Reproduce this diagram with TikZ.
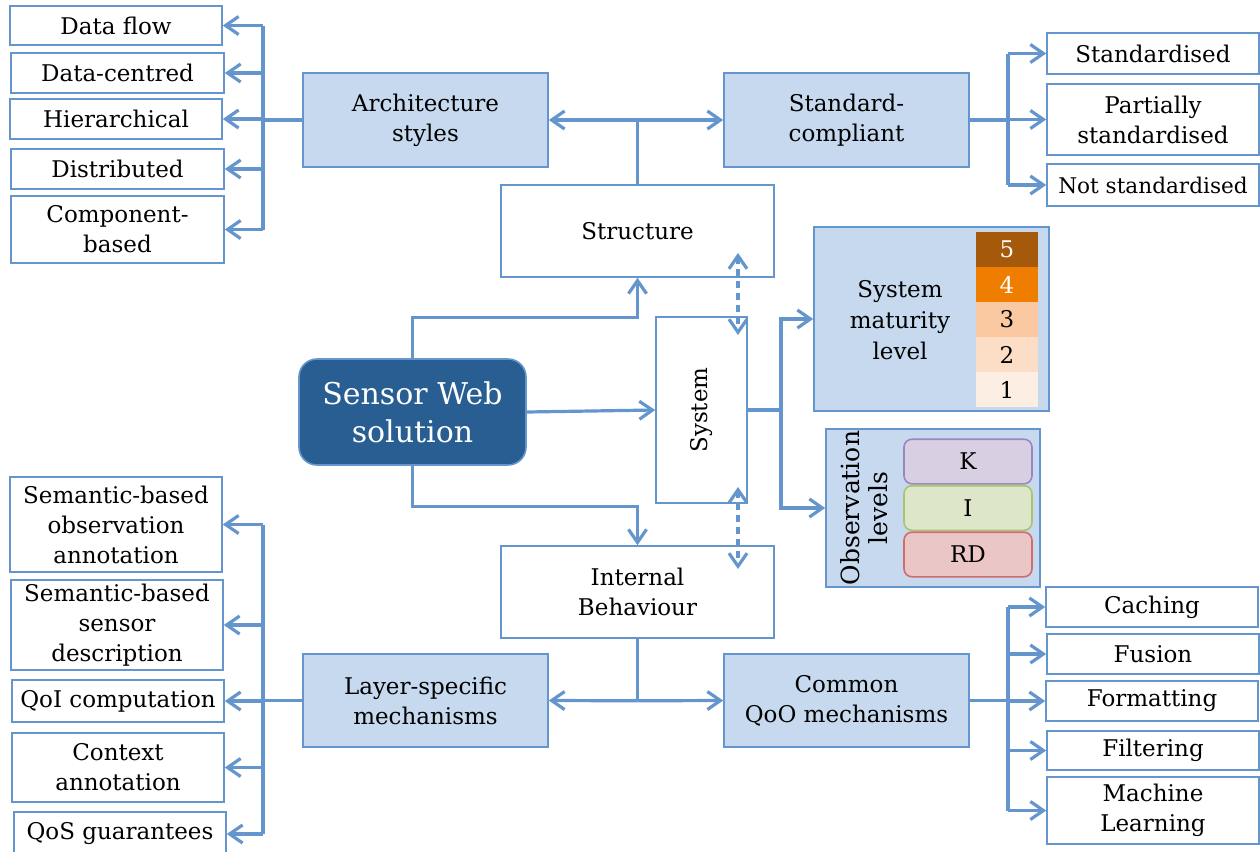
\documentclass[tikz,border=0pt]{standalone}
\usepackage{fontspec}
\setmainfont{DejaVu Serif}
\usetikzlibrary{arrows.meta}

\definecolor{linec}{HTML}{6496CD}
\definecolor{lightc}{HTML}{C6D9EE}
\definecolor{darkc}{HTML}{285E92}
\definecolor{lvfive}{HTML}{A5590A}
\definecolor{lvfour}{HTML}{EE7D00}
\definecolor{lvthree}{HTML}{FAC9A1}
\definecolor{lvtwo}{HTML}{FCDEC6}
\definecolor{lvone}{HTML}{FDEEE3}
\definecolor{kfill}{HTML}{D8CFE3}
\definecolor{kdraw}{HTML}{9B87C0}
\definecolor{ifill}{HTML}{DDE6C8}
\definecolor{idraw}{HTML}{A8C46E}
\definecolor{rfill}{HTML}{EBC6C6}
\definecolor{rdraw}{HTML}{D06C6C}

\tikzset{
  every node/.style={font=\fontsize{11.5}{15}\selectfont},
  box/.style={draw=linec, line width=0.8pt, fill=white, align=center, inner sep=0pt},
  catbox/.style={box, fill=lightc},
  lvbox/.style={inner sep=0pt, minimum width=31pt, minimum height=17.5pt},
  obsbox/.style={inner sep=0pt, line width=0.8pt, rounded corners=4pt,
                 minimum width=64pt, minimum height=22.3pt},
  conn/.style={draw=linec, line width=1.6pt, line join=miter},
  tip/.tip={Straight Barb[length=6.5pt,width=9pt]},
  arr/.style={conn, -tip},
  biarr/.style={conn, tip-tip},
  dasharr/.style={biarr, dash pattern=on 3.5pt off 2.5pt},
}

\begin{document}
\begin{tikzpicture}[x=0.5pt, y=-0.5pt]
\useasboundingbox (0,0) rectangle (1260,852);
\fill[white] (0,0) rectangle (1260,852);

% central blocks
\node[box, minimum width=136.5pt, minimum height=46pt] (st) at (637.5,231) {Structure};
\node[box, minimum width=45.5pt, minimum height=93pt] (sys) at (701.5,410) {};
\node[rotate=90] at (sys.center) {System};
\node[box, minimum width=136.5pt, minimum height=46pt] (ib) at (637.5,592) {Internal\\Behaviour};
\node[draw=linec, line width=0.8pt, fill=darkc, text=white, rounded corners=9pt,
      align=center, inner sep=0pt, minimum width=113.5pt, minimum height=53pt,
      font=\fontsize{15}{19}\selectfont] (sw) at (412.5,412) {Sensor Web\\solution};

% category blocks
\node[catbox, minimum width=122.5pt, minimum height=47pt] (as) at (425.5,120) {Architecture\\styles};
\node[catbox, minimum width=122.5pt, minimum height=47pt] (sc) at (846.5,120) {Standard-\\compliant};
\node[catbox, minimum width=122.5pt, minimum height=46.5pt] (ls) at (425.5,700.5) {Layer-specific\\mechanisms};
\node[catbox, minimum width=122.5pt, minimum height=46.5pt] (cq) at (846.5,700.5) {Common\\QoO mechanisms};

% architecture styles
\node[box, minimum width=106pt, minimum height=19.5pt] (df) at (116,25.5) {Data flow};
\node[box, minimum width=106.5pt, minimum height=20pt] (dc) at (117.5,73) {Data-centred};
\node[box, minimum width=106pt, minimum height=20pt] (hi) at (116,119) {Hierarchical};
\node[box, minimum width=106.5pt, minimum height=20pt] (di) at (117.5,169) {Distributed};
\node[box, minimum width=106.5pt, minimum height=33.5pt] (cb) at (117.5,229.5) {Component-\\based};

% standardisation
\node[box, minimum width=106pt, minimum height=20.5pt] (s1) at (1153,53.5) {Standardised};
\node[box, minimum width=106pt, minimum height=35.5pt] (s2) at (1153,119.5) {Partially\\standardised};
\node[box, minimum width=106pt, minimum height=21pt, font=\fontsize{10.8}{15}\selectfont] (s3) at (1153,185) {Not standardised};

% maturity levels
\node[catbox, minimum width=117.5pt, minimum height=92pt] (sml) at (931.5,319) {};
\node[align=center, font=\fontsize{11.5}{15.5}\selectfont] (smlt) at (900,320) {System\\maturity\\level};
\node[lvbox, fill=lvfive, text=white] (l5) at (1007,249.5) {5};
\node[lvbox, fill=lvfour, text=white] (l4) at (1007,284.5) {4};
\node[lvbox, fill=lvthree] (l3) at (1007,319.5) {3};
\node[lvbox, fill=lvtwo] (l2) at (1007,354.5) {2};
\node[lvbox, fill=lvone] (l1) at (1007,389.5) {1};

% observation levels
\node[catbox, minimum width=107pt, minimum height=79pt] (obs) at (933,508) {};
\node[rotate=90, align=center, font=\fontsize{12.5}{14}\selectfont] (obst) at (864,508) {Observation\\levels};
\node[obsbox, draw=kdraw, fill=kfill] (ok) at (968,461.5) {K};
\node[obsbox, draw=idraw, fill=ifill] (oi) at (968,508) {I};
\node[obsbox, draw=rdraw, fill=rfill] (or) at (968,554.5) {RD};

% layer-specific mechanisms
\node[box, minimum width=106pt, minimum height=47.5pt] (b1) at (116,524.5) {Semantic-based\\observation\\annotation};
\node[box, minimum width=106pt, minimum height=45pt] (b2) at (117,625) {Semantic-based\\sensor\\description};
\node[box, minimum width=106pt, minimum height=21pt] (b3) at (118,701) {QoI computation};
\node[box, minimum width=106pt, minimum height=34.5pt] (b4) at (118,767.5) {Context\\annotation};
\node[box, minimum width=106pt, minimum height=22pt] (b5) at (120,834) {QoS guarantees};

% common QoO mechanisms
\node[box, minimum width=106pt, minimum height=20pt] (r1) at (1152,607) {Caching};
\node[box, minimum width=106pt, minimum height=20pt] (r2) at (1153,654) {Fusion};
\node[box, minimum width=106pt, minimum height=20pt] (r3) at (1152,701) {Formatting};
\node[box, minimum width=106pt, minimum height=19.5pt] (r4) at (1153,750.5) {Filtering};
\node[box, minimum width=106pt, minimum height=33.5pt] (r5) at (1153,810.5) {Machine\\Learning};

% bus lines
\coordinate (busL) at (263,0);
\coordinate (busR) at (1008,0);
\coordinate (busS) at (781,0);

% Sensor Web solution to its three aspects
\draw[arr] (sw.north) -- ++(0,-41) -| (st.south);
\draw[arr] (sw.east) -- (sys.west);
\draw[arr] (sw.south) -- ++(0,41) -| (ib.north);

% interplay of the aspects with the system
\coordinate (d1) at (738,253);
\coordinate (d2) at (738,335);
\coordinate (d3) at (738,487);
\coordinate (d4) at (738,569);
\draw[dasharr] (d1) -- (d2);
\draw[dasharr] (d3) -- (d4);

% structure
\draw[biarr] (as.east) -- (sc.west);
\draw[conn] (st.north) -- (st.north |- as.east);
\draw[conn] (as.west) -- (busL |- as.west);
\draw[conn] (busL |- df.east) -- (busL |- cb.east);
\foreach \n in {df,dc,hi,di,cb} \draw[arr] (busL |- \n.east) -- (\n.east);
\draw[conn] (sc.east) -- (busR |- sc.east);
\draw[conn] (busR |- s1.west) -- (busR |- s3.west);
\foreach \n in {s1,s2,s3} \draw[arr] (busR |- \n.west) -- (\n.west);

% system
\draw[conn] (sys.east) -- (busS |- sys.east);
\draw[arr] (busS |- sys.east) |- (sml.west);
\draw[arr] (busS |- sys.east) |- (obs.west);

% internal behaviour
\draw[conn] (ib.south) -- ++(0,62) coordinate (j);
\draw[arr] (j) -- (ls.east);
\draw[arr] (j) -- (cq.west);
\draw[conn] (ls.west) -- (busL |- ls.west);
\draw[conn] (busL |- b1.east) -- (busL |- b5.east);
\foreach \n in {b1,b2,b3,b4,b5} \draw[arr] (busL |- \n.east) -- (\n.east);
\draw[conn] (cq.east) -- (busR |- cq.east);
\draw[conn] (busR |- r1.west) -- (busR |- r5.west);
\foreach \n in {r1,r2,r3,r4,r5} \draw[arr] (busR |- \n.west) -- (\n.west);
\end{tikzpicture}
\end{document}
